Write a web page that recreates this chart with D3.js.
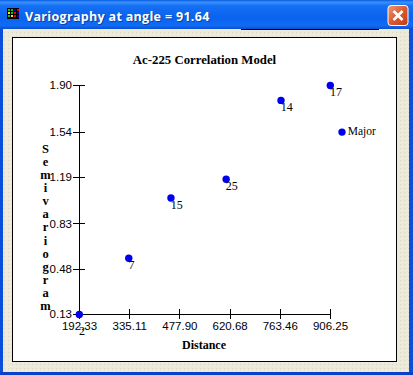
<!DOCTYPE html>
<html><head><meta charset="utf-8">
<script src="https://cdn.jsdelivr.net/npm/d3@7/dist/d3.min.js"></script>
<style>html,body{margin:0;padding:0;background:#ECE9D8;overflow:hidden}svg{display:block}</style>
</head><body><svg id="c" width="413" height="375"></svg>
<script>
const windowTitle = "Variography at angle = 91.64";
const chartTitle = "Ac-225 Correlation Model";
const xTitle = "Distance";
const yTitle = "Semivariogram";
const xTicks = [192.33, 335.11, 477.90, 620.68, 763.46, 906.25];
const yTicks = [0.13, 0.48, 0.83, 1.19, 1.54, 1.90];
const distances = [192.33, 333, 453, 610, 766, 906.25];
const semivariances = [0.13, 0.565, 1.03, 1.175, 1.785, 1.90];
const pairCounts = ["2", "7", "15", "25", "14", "17"];
const majorPoint = [{name: "Major", x: 939.5, y: 1.54}];

const svg = d3.select("#c");
const defs = svg.append("defs");
const g1 = defs.append("linearGradient").attr("id","tb").attr("x1",0).attr("x2",0).attr("y1",0).attr("y2",1);
[[0,"#0A5FE8"],[.08,"#3A90FA"],[.2,"#1470F5"],[.6,"#0A62EE"],[.88,"#0F6CF5"],[1,"#0A50D0"]]
  .forEach(s=>g1.append("stop").attr("offset",s[0]).attr("stop-color",s[1]));
const g2 = defs.append("linearGradient").attr("id","cl").attr("x1",0).attr("x2",1).attr("y1",0).attr("y2",1);
[[0,"#EE9A7A"],[.5,"#DC5A30"],[1,"#C23A14"]].forEach(s=>g2.append("stop").attr("offset",s[0]).attr("stop-color",s[1]));
const pat = defs.append("pattern").attr("id","dith").attr("width",4).attr("height",4).attr("patternUnits","userSpaceOnUse");
pat.append("rect").attr("width",4).attr("height",4).attr("fill","#ECE9D8");
pat.append("rect").attr("x",0).attr("y",0).attr("width",1).attr("height",1).attr("fill","#DDD8C4");
pat.append("rect").attr("x",2).attr("y",2).attr("width",1).attr("height",1).attr("fill","#F4F2E8");

// window chrome
svg.append("rect").attr("width",413).attr("height",375).attr("fill","#0A4FDC");
svg.append("rect").attr("x",3).attr("y",29).attr("width",406).attr("height",343).attr("fill","url(#dith)");
svg.append("rect").attr("width",413).attr("height",29).attr("fill","url(#tb)");
svg.append("rect").attr("x",0).attr("y",372).attr("width",413).attr("height",3).attr("fill","#0A3FC8");
svg.append("rect").attr("x",241).attr("y",29).attr("width",138).attr("height",1).attr("fill","#000");
// icon
const icon = svg.append("g").attr("transform","translate(7,8)").attr("shape-rendering","crispEdges");
icon.append("rect").attr("width",12).attr("height",11).attr("fill","#000");
const iconColors = ["#0c0","#0c0","#00c","#e00","#ee0","#0c0","#e00","#00c","#0c0","#ee0","#e00","#00c"];
iconColors.forEach((c,i)=>icon.append("rect").attr("x",1+(i%4)*3-(i%4>0?0:0)).attr("y",1+Math.floor(i/4)*3).attr("width",2).attr("height",2).attr("fill",c));
const titleFont = "'Open Sans'";
svg.append("text").attr("x",26).attr("y",22).attr("fill","#000").attr("opacity",.35).attr("font-family",titleFont).attr("font-weight","bold").attr("font-size",12.5).attr("letter-spacing",.32).text(windowTitle);
svg.append("text").attr("x",25).attr("y",21).attr("fill","#fff").attr("font-family",titleFont).attr("font-weight","bold").attr("font-size",12.5).attr("letter-spacing",.32).text(windowTitle);
// close
svg.append("rect").attr("x",388).attr("y",5.5).attr("width",20).attr("height",20).attr("rx",3).attr("fill","url(#cl)").attr("stroke","#fff");
svg.append("path").attr("d","M393.5 11 L402.5 20 M402.5 11 L393.5 20").attr("stroke","#fff").attr("stroke-width",2.6).attr("fill","none");
// plot panel
svg.append("rect").attr("x",12.5).attr("y",37.5).attr("width",384).attr("height",324).attr("fill","#fff").attr("stroke","#000");

const x = d3.scaleLinear().domain([192.33, 906.25]).range([79, 330]);
const y = d3.scaleLinear().domain([0.13, 1.90]).range([314, 85]);
const labelFont = "'Liberation Sans'";

function styleAxis(g){
  g.attr("shape-rendering","crispEdges");
  g.selectAll("path,line").attr("stroke","#000");
  g.selectAll("text").attr("fill","#000").attr("font-family",labelFont).attr("font-size",11.5);
}
svg.append("g").attr("transform","translate(0,314)").call(d3.axisBottom(x).tickValues(xTicks).tickFormat(d3.format(".2f")).tickSizeOuter(0).tickSizeInner(5).tickPadding(3)).call(styleAxis);
svg.append("g").attr("transform","translate(0,314)").call(d3.axisTop(x).tickValues(xTicks).tickFormat("").tickSizeOuter(0).tickSizeInner(5)).call(styleAxis);
svg.append("g").attr("transform","translate(79,0)").call(d3.axisLeft(y).tickValues(yTicks).tickFormat(d3.format(".2f")).tickSizeOuter(0).tickSizeInner(6).tickPadding(1)).call(styleAxis);
svg.append("g").attr("transform","translate(79,0)").call(d3.axisRight(y).tickValues(yTicks).tickFormat("").tickSizeOuter(0).tickSizeInner(6)).call(styleAxis);

const serif = "'Liberation Serif'";
svg.append("text").attr("x",204.5).attr("y",64).attr("text-anchor","middle").attr("font-family",serif).attr("font-weight","bold").attr("font-size",12.8).text(chartTitle);
svg.append("text").attr("x",204).attr("y",349).attr("text-anchor","middle").attr("font-family",serif).attr("font-weight","bold").attr("font-size",12).text(xTitle);
svg.append("g").selectAll("text").data(yTitle.split("")).join("text")
  .attr("x",45.5).attr("y",(d,i)=>153+i*13.08).attr("text-anchor","middle").attr("font-family",serif).attr("font-weight","bold").attr("font-size",12.5).text(d=>d);

const pts = distances.map((d,i)=>({x:d,y:semivariances[i],label:pairCounts[i]}));
svg.append("g").selectAll("circle").data(pts.concat(majorPoint)).join("circle")
  .attr("cx",d=>x(d.x)+.3).attr("cy",d=>y(d.y)+.5).attr("r",3.7).attr("fill","#0000F0");
svg.append("g").selectAll("text").data(pts).join("text")
  .attr("x",d=>x(d.x)).attr("y",(d,i)=>y(d.y)+(i===0?21:11)).attr("font-family",serif).attr("font-size",12).text(d=>d.label);
svg.append("g").selectAll("text").data(majorPoint).join("text")
  .attr("x",d=>x(d.x)+6).attr("y",d=>y(d.y)+3.5).attr("font-family",serif).attr("font-size",11.5).text(d=>d.name);
</script></body></html>
